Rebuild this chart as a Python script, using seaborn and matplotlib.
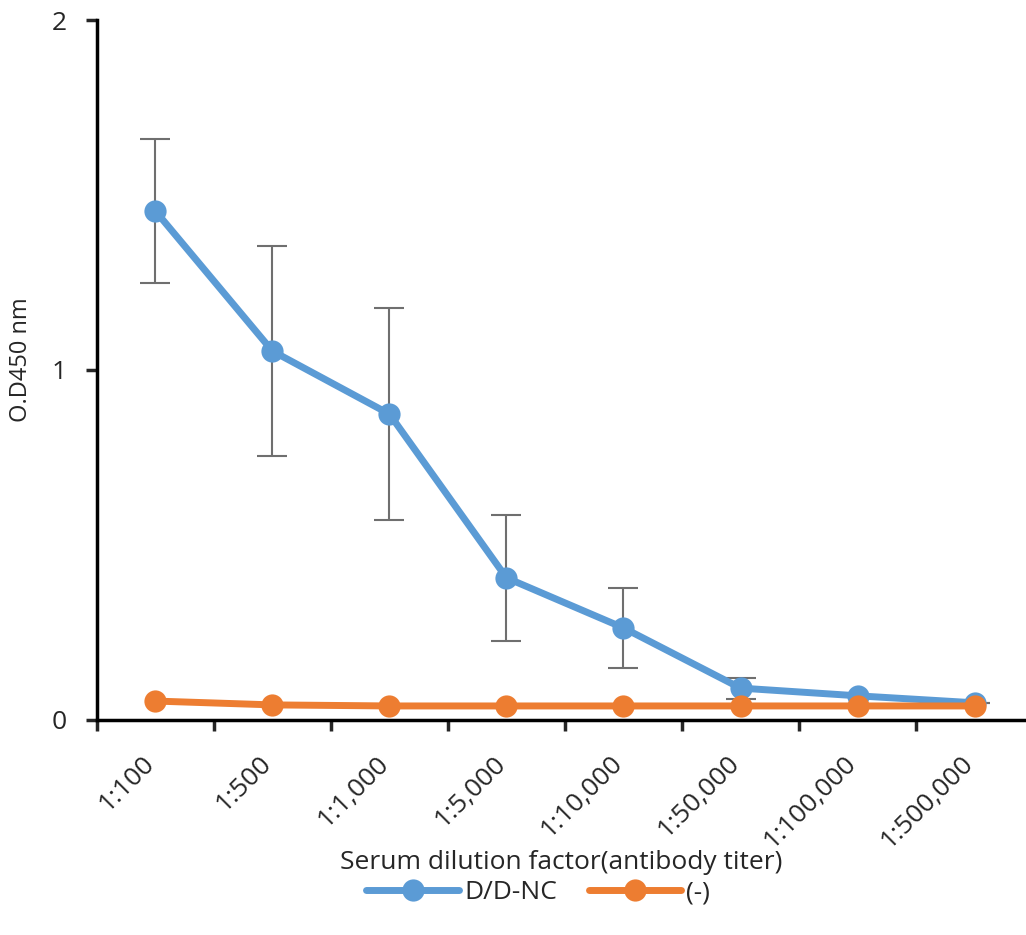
import numpy as np
import pandas as pd
import matplotlib
matplotlib.use('Agg')
import matplotlib.pyplot as plt
import matplotlib.transforms as mtransforms
import seaborn as sns

dilutions = ['1:100', '1:500', '1:1,000', '1:5,000', '1:10,000', '1:50,000', '1:100,000', '1:500,000']
dd_nc = [1.454, 1.054, 0.874, 0.406, 0.263, 0.091, 0.069, 0.049]
dd_nc_err = [0.205, 0.301, 0.302, 0.181, 0.115, 0.03, 0.0, 0.0]
neg = [0.054, 0.043, 0.040, 0.040, 0.040, 0.040, 0.040, 0.040]

blue = '#5B9BD5'
orange = '#ED7D31'

sns.set_style('white')
plt.rcParams['font.family'] = ['Open Sans', 'DejaVu Sans']

df = pd.DataFrame({
    'pos': list(range(len(dilutions))) * 2,
    'od': dd_nc + neg,
    'group': ['D/D-NC'] * len(dilutions) + ['(-)'] * len(dilutions),
})

fig = plt.figure(figsize=(10.26, 9.35), dpi=100)
ax = fig.add_axes([0.0945, 0.230, 0.9055, 0.7486])

ax.errorbar(range(len(dilutions)), dd_nc, yerr=dd_nc_err, fmt='none',
            ecolor='#6f6f6f', elinewidth=1.5, capsize=11, capthick=1.5, zorder=1)
sns.lineplot(data=df, x='pos', y='od', hue='group', palette=[blue, orange],
             marker='o', markersize=16, markeredgewidth=0, linewidth=5,
             ax=ax, zorder=2)

ax.set_xlim(-0.5, 7.44)
ax.set_ylim(0, 2)
ax.set_yticks([0, 1, 2])
ax.set_yticklabels(['0', '1', '2'], fontsize=19)
ax.set_xticks(np.arange(-0.5, 7.5, 1))
ax.set_xticklabels([])
ax.set_xticks(range(len(dilutions)), minor=True)
ax.set_xticklabels(dilutions, minor=True, rotation=45, ha='right', va='baseline',
                   rotation_mode='anchor', fontsize=19)
shift = mtransforms.ScaledTranslation(4 / 100, 0, fig.dpi_scale_trans)
for lab in ax.get_xticklabels(minor=True):
    lab.set_transform(lab.get_transform() + shift)
ax.tick_params(axis='x', which='major', direction='out', length=8, width=2.5, bottom=True)
ax.tick_params(axis='x', which='minor', length=0, pad=32)
ax.tick_params(axis='y', which='major', direction='out', length=8, width=2.5, left=True, pad=14)

for side in ['top', 'right']:
    ax.spines[side].set_visible(False)
for side in ['left', 'bottom']:
    ax.spines[side].set_linewidth(2.5)
    ax.spines[side].set_color('black')

ax.set_ylabel('O.D450 nm', fontsize=17, va='center', ha='center')
ax.yaxis.set_label_coords(-0.082, 0.514)
ax.set_xlabel('Serum dilution factor(antibody titer)', fontsize=19, va='center')
ax.xaxis.set_label_coords(0.5, -0.203)

handles, labels = ax.get_legend_handles_labels()
ax.legend(handles, labels, loc='center', bbox_to_anchor=(0.475, -0.247),
          ncol=2, frameon=False, fontsize=19, handlelength=3.5,
          columnspacing=1.2, handletextpad=0.2, borderaxespad=0, borderpad=0)

plt.savefig('out.png', dpi=100)
